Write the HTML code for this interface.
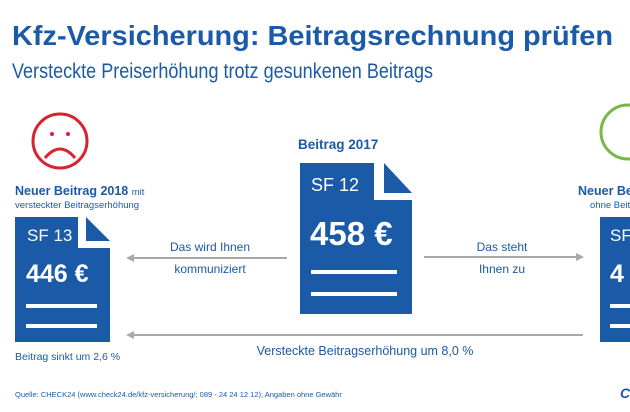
<!DOCTYPE html>
<html><head><meta charset="utf-8"><style>
html,body{margin:0;padding:0;background:#fff;}
svg{display:block;font-family:"Liberation Sans",sans-serif;}
</style></head><body>
<svg width="630" height="412" viewBox="0 0 630 412">
<defs>
<marker id="ah" viewBox="0 0 10 10" refX="5" refY="5" markerWidth="4" markerHeight="4" orient="auto-start-reverse"><path d="M0,0 L10,5 L0,10 z" fill="#a9a9a9"/></marker>
</defs>
<text x="12" y="45" font-size="28" font-weight="bold" fill="#1a5aa6" textLength="601" lengthAdjust="spacingAndGlyphs">Kfz-Versicherung: Beitragsrechnung prüfen</text>
<text x="12" y="78" font-size="21" fill="#1a5aa6" textLength="421" lengthAdjust="spacingAndGlyphs">Versteckte Preiserhöhung trotz gesunkenen Beitrags</text>

<g stroke="#d8222f" fill="none" stroke-width="3">
<circle cx="60" cy="141" r="27"/>
<path d="M45,158 Q60,140 75,158"/>
<circle cx="52" cy="134" r="2" fill="#d8222f" stroke="none"/>
<circle cx="68" cy="134" r="2" fill="#d8222f" stroke="none"/>
</g>
<circle cx="628" cy="132" r="27" stroke="#7ab648" stroke-width="3" fill="none"/>

<text x="15" y="195" font-size="12.5" font-weight="bold" fill="#1a5aa6">Neuer Beitrag 2018 <tspan font-weight="normal" font-size="9.5">mit</tspan></text>
<text x="15" y="208" font-size="9.5" fill="#1a5aa6">versteckter Beitragserhöhung</text>

<g>
<path d="M15,217 H78 V248 H110 V342 H15 Z" fill="#1a5aa6"/>
<path d="M86,217 L110,241 H86 Z" fill="#1a5aa6"/>
<text x="27" y="241" font-size="17" fill="#fff">SF 13</text>
<text x="26" y="282" font-size="25" font-weight="bold" fill="#fff">446 €</text>
<rect x="26" y="304" width="71" height="4" fill="#fff"/>
<rect x="26" y="324" width="71" height="4" fill="#fff"/>
</g>
<text x="15" y="360" font-size="10.5" fill="#1a5aa6">Beitrag sinkt um 2,6 %</text>

<text x="298" y="149" font-size="13.5" font-weight="bold" fill="#1a5aa6">Beitrag 2017</text>
<g>
<path d="M300,163 H374 V200 H412 V314 H300 Z" fill="#1a5aa6"/>
<path d="M384,163 L412,193 H384 Z" fill="#1a5aa6"/>
<text x="311" y="191" font-size="18" fill="#fff">SF 12</text>
<text x="310" y="245" font-size="33" font-weight="bold" fill="#fff">458 €</text>
<rect x="311" y="270" width="86" height="4" fill="#fff"/>
<rect x="311" y="292" width="86" height="4" fill="#fff"/>
</g>

<text x="578" y="195" font-size="12.5" font-weight="bold" fill="#1a5aa6">Neuer Beitrag 2018</text>
<text x="590" y="208" font-size="9.5" fill="#1a5aa6">ohne Beitragserhöhung</text>
<g>
<rect x="600" y="217" width="40" height="125" fill="#1a5aa6"/>
<text x="610" y="241" font-size="17" fill="#fff">SF 11</text>
<text x="610" y="282" font-size="25" font-weight="bold" fill="#fff">4</text>
<rect x="610" y="304" width="30" height="4" fill="#fff"/>
<rect x="610" y="324" width="30" height="4" fill="#fff"/>
</g>

<line x1="287" y1="258" x2="130" y2="258" stroke="#a9a9a9" stroke-width="2" marker-end="url(#ah)"/>
<text x="210" y="251" font-size="12" fill="#1a5aa6" text-anchor="middle">Das wird Ihnen</text>
<text x="210" y="273" font-size="12" fill="#1a5aa6" text-anchor="middle">kommuniziert</text>

<line x1="424" y1="257" x2="580" y2="257" stroke="#a9a9a9" stroke-width="2" marker-end="url(#ah)"/>
<text x="502" y="251" font-size="12" fill="#1a5aa6" text-anchor="middle">Das steht</text>
<text x="502" y="273" font-size="12" fill="#1a5aa6" text-anchor="middle">Ihnen zu</text>

<line x1="583" y1="335" x2="130" y2="335" stroke="#a9a9a9" stroke-width="2" marker-end="url(#ah)"/>
<text x="365" y="355" font-size="12.5" fill="#1a5aa6" text-anchor="middle">Versteckte Beitragserhöhung um 8,0 %</text>

<text x="15" y="397" font-size="7.5" fill="#1a5aa6">Quelle: CHECK24 (www.check24.de/kfz-versicherung/; 089 - 24 24 12 12); Angaben ohne Gewähr</text>
<text x="620" y="398" font-size="14" font-weight="bold" font-style="italic" fill="#1a5aa6">C</text>
</svg>
</body></html>
